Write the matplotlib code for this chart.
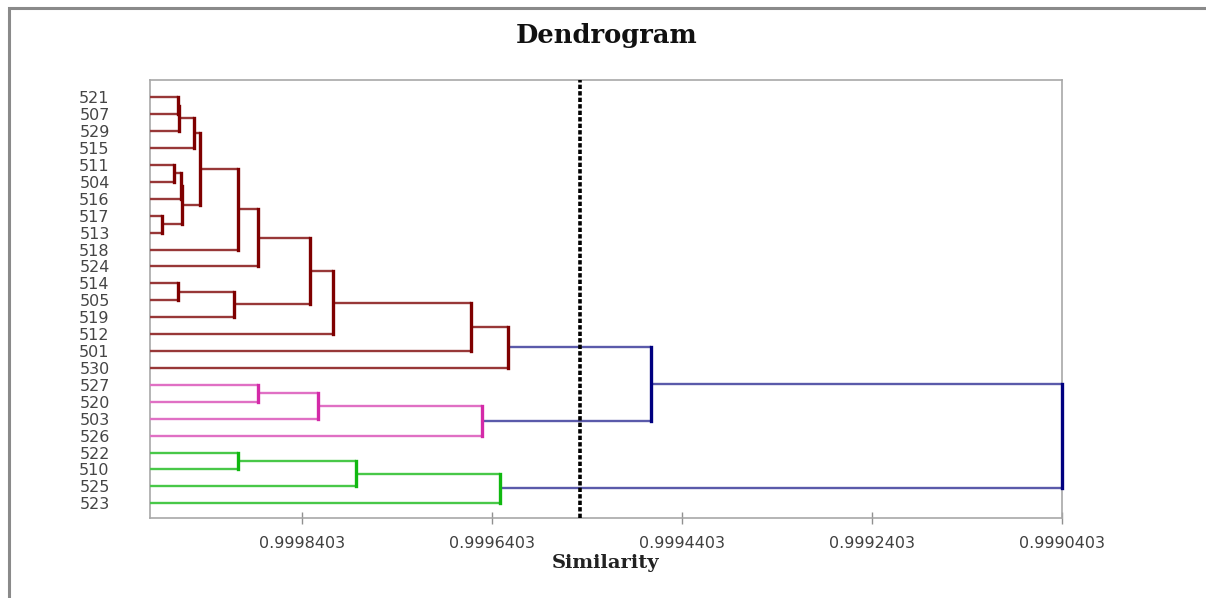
import matplotlib
matplotlib.use("Agg")
import matplotlib.pyplot as plt
from matplotlib.patches import Rectangle

# ---- data ----
leaf_labels = ["521", "507", "529", "515", "511", "504", "516", "517", "513",
               "518", "524", "514", "505", "519", "512", "501", "530", "527",
               "520", "503", "526", "522", "510", "525", "523"]

# merges: node id of merge k is len(leaf_labels) + k
merge_left = [0, 25, 26, 4, 28, 7, 29, 27, 32, 33, 11, 35, 34, 37, 38, 39,
              17, 41, 42, 21, 44, 45, 40, 47]
merge_right = [1, 2, 3, 5, 6, 8, 30, 31, 9, 10, 12, 13, 36, 14, 15, 16,
               18, 19, 20, 22, 23, 24, 43, 46]
merge_similarity = [0.9999705, 0.9999700, 0.9999534, 0.9999744, 0.9999674,
                    0.9999877, 0.9999660, 0.9999474, 0.9999077, 0.9998860,
                    0.9999702, 0.9999113, 0.9998316, 0.9998071, 0.9996625,
                    0.9996230, 0.9998860, 0.9998229, 0.9996503, 0.9999071,
                    0.9997835, 0.9996317, 0.9994731, 0.9990403]
merge_group = ["red"] * 16 + ["pink"] * 3 + ["green"] * 3 + ["blue"] * 2

cut_similarity = 0.9995475
x_ticks = [0.9998403, 0.9996403, 0.9994403, 0.9992403, 0.9990403]
x_tick_labels = ["0.9998403", "0.9996403", "0.9994403", "0.9992403", "0.9990403"]
leaf_similarity = 1.0

# ---- styles ----
vert_colors = {"red": "#7f0000", "pink": "#d42aa8", "green": "#10b810", "blue": "#000080"}
horiz_colors = {"red": "#983838", "pink": "#e070c4", "green": "#48c848", "blue": "#5a5aaa"}

W, H = 1206, 598
fig = plt.figure(figsize=(W / 100, H / 100), dpi=100)
ax = fig.add_axes([150 / W, 1 - 518 / H, 912 / W, 438 / H])

n = len(leaf_labels)
xpos = {i: leaf_similarity for i in range(n)}
ypos = {i: float(i) for i in range(n)}

for k, (a, b, s, g) in enumerate(zip(merge_left, merge_right, merge_similarity, merge_group)):
    node = n + k
    hc = horiz_colors[g]
    vc = vert_colors[g]
    ax.plot([xpos[a], s], [ypos[a], ypos[a]], color=hc, lw=1.7,
            solid_capstyle="butt", zorder=3, clip_on=False)
    ax.plot([xpos[b], s], [ypos[b], ypos[b]], color=hc, lw=1.7,
            solid_capstyle="butt", zorder=3, clip_on=False)
    ax.plot([s, s], [ypos[a], ypos[b]], color=vc, lw=2.4,
            solid_capstyle="projecting", zorder=4, clip_on=False)
    xpos[node] = s
    ypos[node] = (ypos[a] + ypos[b]) / 2

ax.axvline(cut_similarity, color="black", lw=2.6, linestyle=(0, (1.2, 0.6)), zorder=5)

ax.set_xlim(leaf_similarity, 0.9990403)
ax.set_ylim(n - 1 + 0.87, -1.02)

ax.set_yticks(range(n))
ax.set_yticklabels(leaf_labels)
ax.tick_params(axis="y", length=0, pad=29, labelsize=11.5, labelcolor="#454545")
ax.set_xticks(x_ticks)
ax.set_xticklabels(x_tick_labels)
ax.tick_params(axis="x", direction="inout", length=8, width=1, color="#909090",
               pad=9, labelsize=11.5, labelcolor="#404040")

for sp in ax.spines.values():
    sp.set_color("#a8a8a8")
    sp.set_linewidth(1.2)
    sp.set_zorder(2)

fig.text(607 / W, 1 - 35 / H, "Dendrogram", ha="center", va="center",
         family="DejaVu Serif", weight="bold", size=18.5, color="#111111")
fig.text(606 / W, 1 - 563 / H, "Similarity", ha="center", va="center",
         family="DejaVu Serif", weight="bold", size=14, color="#222222")

# outer frame
fig.patches.append(Rectangle((9, -10), W + 20, H + 10 - 8, transform=None,
                             fill=False, edgecolor="#8a8a8a", lw=2.2, zorder=0))

fig.savefig("out.png", dpi=100)
